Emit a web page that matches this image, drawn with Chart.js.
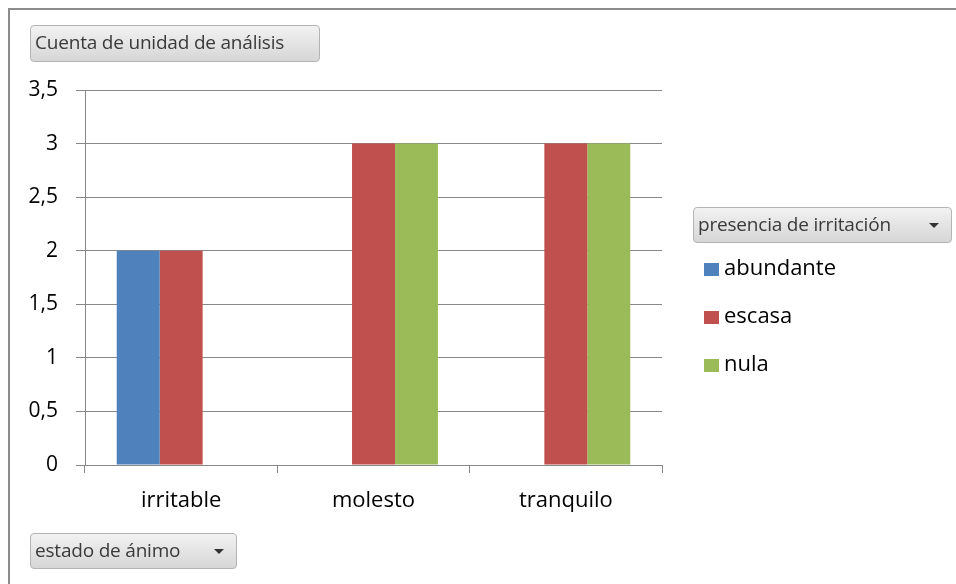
<!DOCTYPE html>
<html>
<head>
<meta charset="utf-8">
<script src="https://cdn.jsdelivr.net/npm/chart.js@4"></script>
<style>
  html, body { margin: 0; padding: 0; background: #fff; }
  #wrap { position: relative; width: 956px; height: 584px; overflow: hidden; }
  #frame { position: absolute; left: 8px; top: 8px; width: 960px; height: 600px;
           border-left: 2px solid #8c8c8c; border-top: 2px solid #8c8c8c; }
  canvas { position: absolute; left: 0; top: 0; }
  .pivot { position: absolute; box-sizing: border-box; border: 1px solid #b4b4b4; border-radius: 4px;
           background: linear-gradient(#f2f2f2, #d6d6d6); color: #3a3a3a;
           font: 19px "Open Sans", sans-serif; line-height: 33px; padding-left: 4px; white-space: nowrap;
           letter-spacing: -0.2px; }
  .pivot .arrow { position: absolute; right: 12px; top: 15px; width: 0; height: 0;
           border-left: 5px solid transparent; border-right: 5px solid transparent; border-top: 5px solid #333; }
  #legend { position: absolute; left: 704px; top: 249px; font: 22px "Open Sans", sans-serif; color: #000; }
  #legend div { height: 48px; line-height: 34px; white-space: nowrap; }
  #legend span { display: inline-block; width: 15px; height: 13px; margin-right: 5px; vertical-align: -1px; }
</style>
</head>
<body>
<div id="wrap">
  <div id="frame"></div>
  <canvas id="chart" width="956" height="584"></canvas>
  <div class="pivot" style="left:30px;top:25px;width:290px;height:37px;">Cuenta de unidad de análisis</div>
  <div class="pivot" style="left:693px;top:207px;width:259px;height:36px;">presencia de irritación<div class="arrow"></div></div>
  <div class="pivot" style="left:30px;top:533px;width:207px;height:36px;">estado de ánimo<div class="arrow"></div></div>
  <div id="legend"></div>
</div>
<script>
const categories = ['irritable', 'molesto', 'tranquilo'];
const abundante = [2, null, null];
const escasa = [2, 3, 3];
const nula = [null, 3, 3];
const seriesNames = ['abundante', 'escasa', 'nula'];
const seriesColors = ['#4F81BD', '#C0504D', '#9BBB59'];

const datasets = [abundante, escasa, nula].map((values, i) => ({
    label: seriesNames[i],
    data: values,
    backgroundColor: seriesColors[i],
    borderWidth: 0,
    categoryPercentage: 0.67,
    barPercentage: 1
}));

// legend built from the same series
document.getElementById('legend').innerHTML = seriesNames
    .map((name, i) => `<div><span style="background:${seriesColors[i]}"></span>${name}</div>`)
    .join('');

new Chart(document.getElementById('chart').getContext('2d'), {
    type: 'bar',
    data: { labels: categories, datasets: datasets },
    options: {
        responsive: false,
        animation: false,
        layout: { padding: { left: 0, top: 90, right: 294, bottom: 69 } },
        plugins: { legend: { display: false }, tooltip: { enabled: false } },
        scales: {
            x: {
                grid: { drawOnChartArea: false, drawTicks: true, tickLength: 8, color: '#888', offset: true },
                border: { color: '#888', width: 1 },
                ticks: { color: '#000', font: { family: 'Open Sans', size: 22 }, padding: 15, maxRotation: 0 },
                afterFit: scale => { scale.height = 50; }
            },
            y: {
                min: 0,
                max: 3.5,
                grid: { color: '#888', tickLength: 9, drawTicks: true },
                border: { color: '#888', width: 1 },
                ticks: {
                    stepSize: 0.5,
                    color: '#000',
                    font: { family: 'Open Sans', size: 21 },
                    padding: 18,
                    callback: v => String(v).replace('.', ',')
                },
                afterFit: scale => { scale.width = 85; }
            }
        }
    }
});
</script>
</body>
</html>
